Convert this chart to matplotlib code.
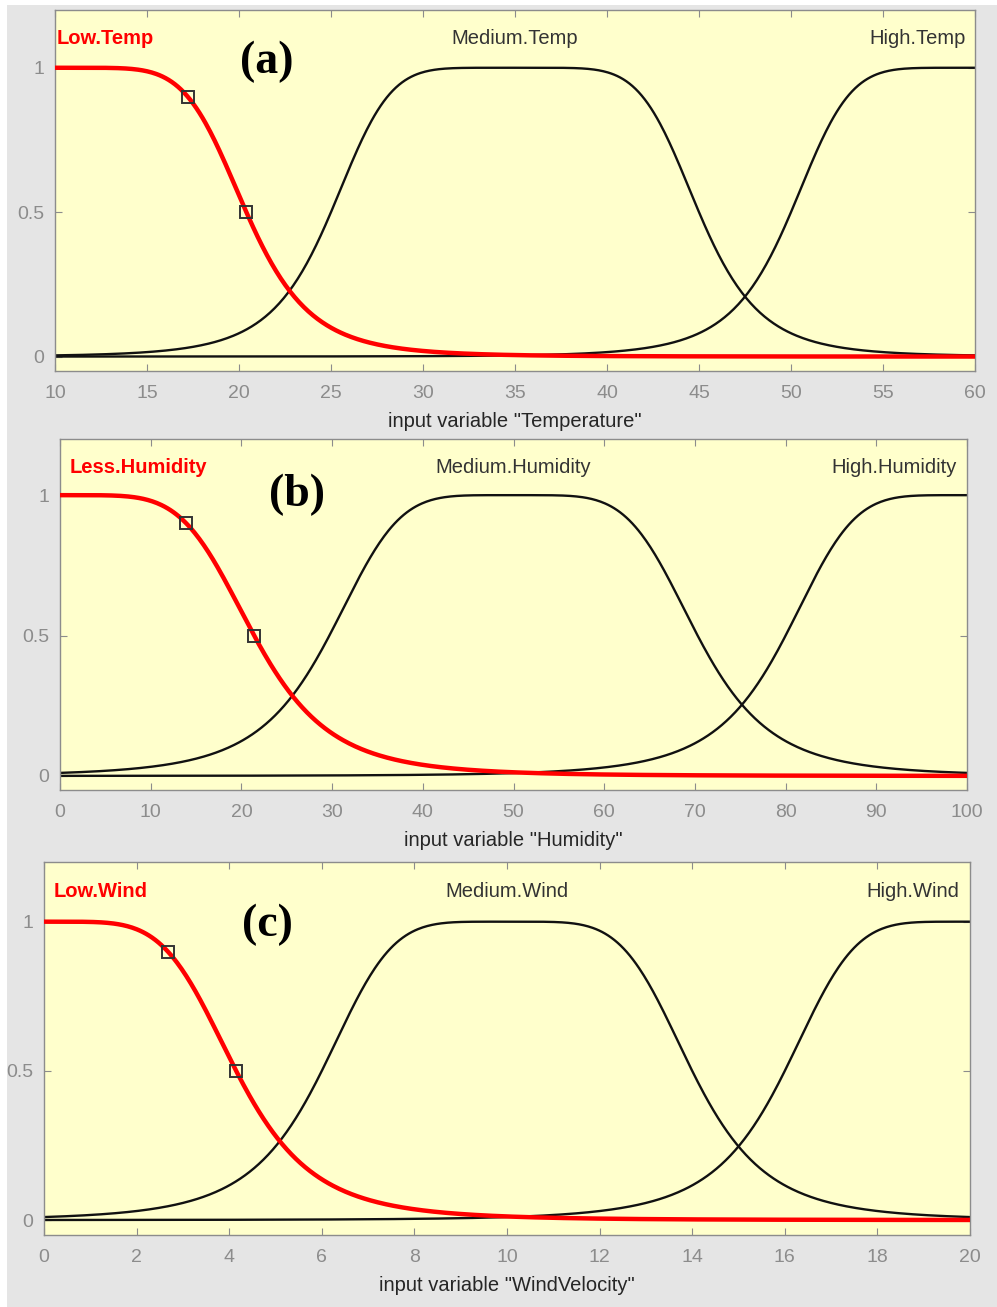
import numpy as np
import matplotlib
matplotlib.use("Agg")
import matplotlib.pyplot as plt
from matplotlib.patches import Rectangle

# generalized bell membership functions, params [a, b, c]
temp_range = [10, 60]
temp_names = ["Low.Temp", "Medium.Temp", "High.Temp"]
temp_params = [[10.4, 3.0, 10], [10.0, 3.0, 35], [10.0, 3.0, 60]]
temp_ticks = [10, 15, 20, 25, 30, 35, 40, 45, 50, 55, 60]

hum_range = [0, 100]
hum_names = ["Less.Humidity", "Medium.Humidity", "High.Humidity"]
hum_params = [[21.4, 2.55, 0], [20.3, 2.5, 50], [20.0, 2.5, 100]]
hum_ticks = [0, 10, 20, 30, 40, 50, 60, 70, 80, 90, 100]

wind_range = [0, 20]
wind_names = ["Low.Wind", "Medium.Wind", "High.Wind"]
wind_params = [[4.15, 2.5, 0], [4.0, 2.5, 10], [4.0, 2.5, 20]]
wind_ticks = [0, 2, 4, 6, 8, 10, 12, 14, 16, 18, 20]

xlabels = ['input variable "Temperature"', 'input variable "Humidity"',
           'input variable "WindVelocity"']
tags = ["(a)", "(b)", "(c)"]
tag_pos = [(21.5, 1.02), (26.1, 1.0), (4.82, 0.99)]

W, H = 997, 1307
# axes boxes in pixels: left, top, right, bottom
boxes = [(55, 10, 975, 371), (60, 439, 967, 790), (44, 862, 970, 1235)]
left_pad = [0.002, 0.011, 0.010]
right_pad = [0.010, 0.011, 0.012]


def gbell(x, a, b, c):
    return 1.0 / (1.0 + np.abs((x - c) / a) ** (2 * b))


fig = plt.figure(figsize=(W / 100, H / 100), dpi=100, facecolor="white")
fig.patches.append(Rectangle((7 / W, 0), 1, 1 - 5 / H, transform=fig.transFigure,
                             facecolor="#e5e5e5", edgecolor="none", zorder=-10))

font = "Liberation Sans"
grey = "#8c8c8c"
ylab = (1.1 + 0.05) / 1.25  # y = 1.1 in axes fraction

panels = [(temp_range, temp_names, temp_params, temp_ticks),
          (hum_range, hum_names, hum_params, hum_ticks),
          (wind_range, wind_names, wind_params, wind_ticks)]

for i, (xr, names, params, ticks) in enumerate(panels):
    l, t, r, b = boxes[i]
    ax = fig.add_axes([l / W, 1 - b / H, (r - l) / W, (b - t) / H])
    ax.set_facecolor("#ffffcc")
    x = np.linspace(xr[0], xr[1], 600)

    # black curves first, selected (red) one on top
    for p in params[1:]:
        ax.plot(x, gbell(x, *p), color="#111111", lw=1.7, zorder=2)
    a, bb, c = params[0]
    ax.plot(x, gbell(x, a, bb, c), color="red", lw=3.2, zorder=3)
    # square handles at the 0.9 and 0.5 points
    hx = [c + a * (1 / 9) ** (1 / (2 * bb)), c + a]
    ax.plot(hx, gbell(np.array(hx), a, bb, c), ls="none", marker="s", ms=9,
            mfc="none", mec="#333333", mew=1.4, zorder=4)

    ax.set_xlim(xr)
    ax.set_ylim(-0.05, 1.2)
    ax.set_xticks(ticks)
    ax.set_yticks([0, 0.5, 1])
    ax.set_yticklabels(["0", "0.5", "1"])
    ax.tick_params(direction="in", length=5, color=grey, labelcolor=grey,
                   labelsize=14, top=True, right=True)
    ax.tick_params(axis="x", pad=10)
    ax.tick_params(axis="y", pad=8)
    for lab in ax.get_xticklabels() + ax.get_yticklabels():
        lab.set_fontfamily(font)
    for s in ax.spines.values():
        s.set_color(grey)
        s.set_linewidth(1.0)

    ax.set_xlabel(xlabels[i], fontsize=14.5, color="#262626", family=font, labelpad=7)

    ax.text(left_pad[i], ylab, names[0], transform=ax.transAxes, fontsize=14.5,
            color="red", weight="bold", family=font, ha="left", va="center")
    ax.text(params[1][2], 1.1, names[1], fontsize=14.5, color="#333333", family=font,
            ha="center", va="center")
    ax.text(1 - right_pad[i], ylab, names[2], transform=ax.transAxes,
            fontsize=14.5, color="#333333", family=font, ha="right", va="center")

    ax.text(tag_pos[i][0], tag_pos[i][1], tags[i], fontsize=33, weight="bold",
            family="Liberation Serif", ha="center", va="center", color="black")

fig.savefig("out.png", dpi=100, facecolor=fig.get_facecolor())
